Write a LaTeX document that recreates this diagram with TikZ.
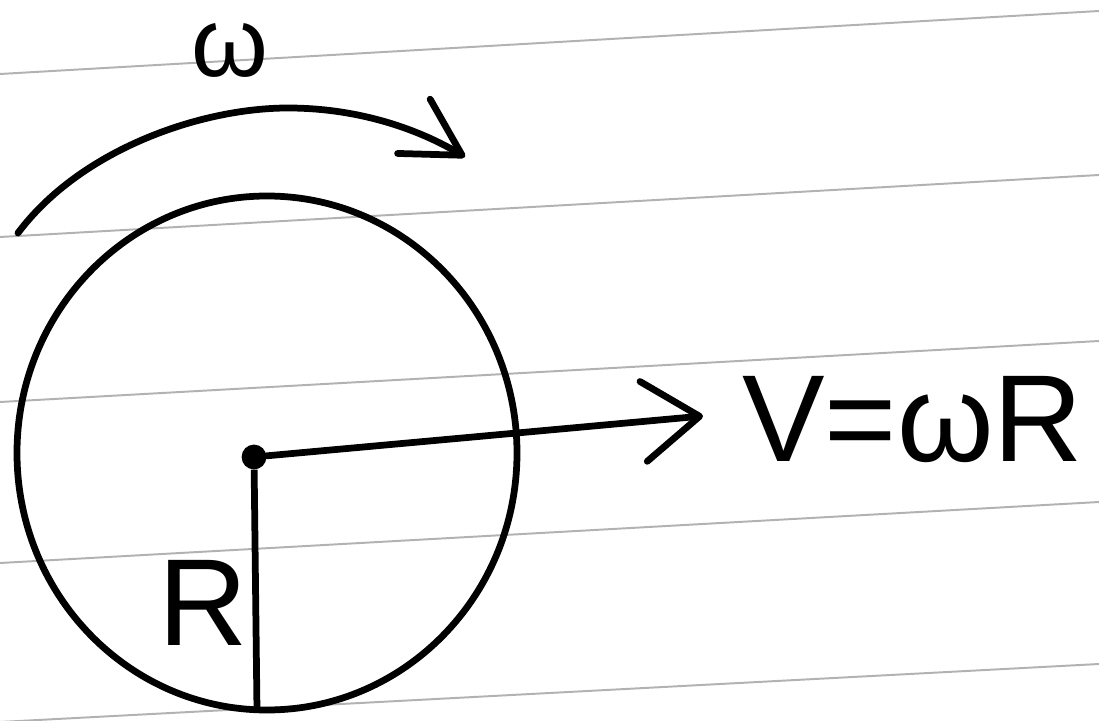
\documentclass[tikz,border=0pt]{standalone}
\usepackage{fontspec}
\setmainfont{Liberation Sans}
\usetikzlibrary{arrows.meta}
\tikzset{
  ruled/.style = {draw=black!30, line width=1.4pt},
  rim/.style   = {draw=black, line width=4.8pt},
  pivot/.style = {circle, fill=black, inner sep=0pt, minimum size=0.62cm},
  vel/.style   = {-{Straight Barb[length=40pt, width=57pt, line cap=round, line join=round]},
                  draw=black, line width=4.8pt, line cap=round},
  spin/.style  = {-{Straight Barb[length=40pt, width=45pt, line cap=round, line join=round]},
                  draw=black, line width=4.8pt, line cap=round},
  hand/.style  = {font=\fontsize{88}{90}\selectfont, inner sep=0pt},
}
\begin{document}
\begin{tikzpicture}[x=0.025cm, y=-0.025cm]
\useasboundingbox (0,0) rectangle (1099,721);

% ---------------- the ruled paper -------------------------------------
\foreach \l/\r in {74/11, 237/175, 402/341, 563/502, 722/664}
  \draw[ruled] (0,\l) -- (1099,\r);

% ---------------- wheel, centre and radius ----------------------------
\draw[rim] (267,453) ellipse [x radius=250, y radius=257];

\node[pivot] (o) at (254,457) {};
\coordinate (bot) at (257,711);
\draw[rim] (o) -- (bot);
\node[hand, anchor=center] (rlab) at (203,603) {R};

% ---------------- velocity at the rim ---------------------------------
\coordinate (vtip) at (703,416);
\draw[vel] (o) -- (vtip);
\node[hand, anchor=west] (vlab) at (742,420) {V=ωR};

% ---------------- sense of rotation -----------------------------------
\coordinate (a0) at (18,233);
\coordinate (a1) at (288,108);
\coordinate (a2) at (465,157);
\draw[spin] (a0) .. controls (80,150) and (200,108) .. (a1)
                 .. controls (360,108) and (420,130) .. (a2);
\node[hand, font=\fontsize{70}{72}\selectfont, anchor=center] (wlab) at (230,50) {ω};

\end{tikzpicture}
\end{document}
